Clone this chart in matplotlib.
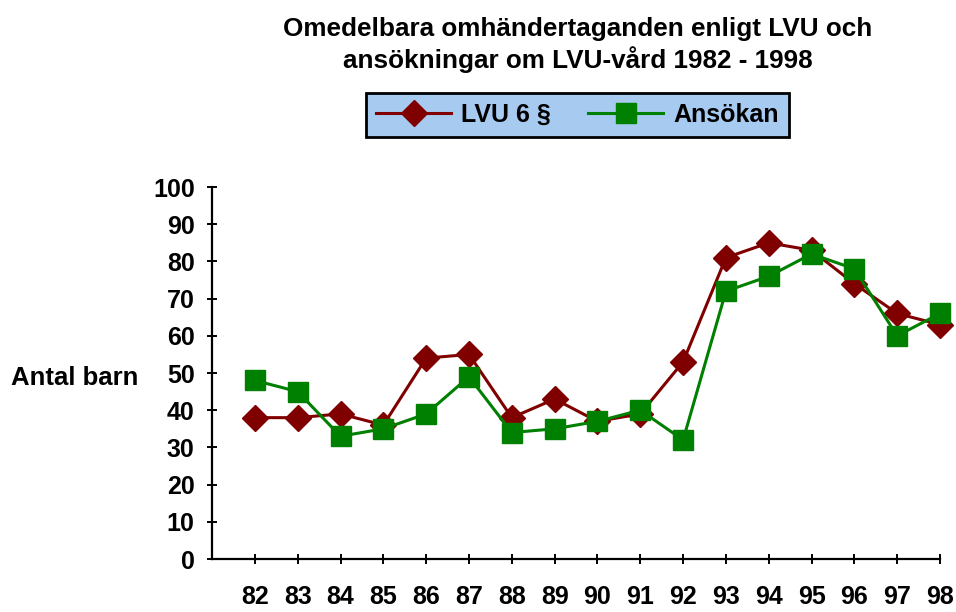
import matplotlib
matplotlib.use("Agg")
import matplotlib.pyplot as plt

# Data
years = ["82", "83", "84", "85", "86", "87", "88", "89", "90",
         "91", "92", "93", "94", "95", "96", "97", "98"]
lvu6 = [38, 38, 39, 36, 54, 55, 38, 43, 37, 39, 53, 81, 85, 83, 74, 66, 63]
ansokan = [48, 45, 33, 35, 39, 49, 34, 35, 37, 40, 32, 72, 76, 82, 78, 60, 66]
y_ticks = [0, 10, 20, 30, 40, 50, 60, 70, 80, 90, 100]

plt.rcParams['font.family'] = ['Liberation Sans', 'DejaVu Sans']
plt.rcParams['font.weight'] = 'bold'

fig = plt.figure(figsize=(9.56, 6.12), dpi=100)
ax = fig.add_axes([0.2218, 0.0866, 0.7615, 0.6078])

x = list(range(1, len(years) + 1))

# Plot both series
ax.plot(x, lvu6, color='#800000', linewidth=2.2, marker='D', markersize=13.5,
        label='LVU 6 §', clip_on=False, zorder=3)
ax.plot(x, ansokan, color='#008000', linewidth=2.2, marker='s', markersize=14.5,
        label='Ansökan', clip_on=False, zorder=4)

# Axes limits and ticks
ax.set_xlim(0, len(years))
ax.set_ylim(0, 100)
ax.set_xticks(x)
ax.set_xticklabels(years)
ax.set_yticks(y_ticks)

ax.spines['top'].set_visible(False)
ax.spines['right'].set_visible(False)
ax.spines['left'].set_linewidth(1.6)
ax.spines['bottom'].set_linewidth(1.6)

ax.tick_params(axis='both', direction='inout', length=7, width=1.4, labelsize=18)
ax.tick_params(axis='x', pad=15.5)
ax.tick_params(axis='y', pad=9)
for lbl in ax.get_xticklabels() + ax.get_yticklabels():
    lbl.set_fontweight('bold')

# Title and y label
fig.text(0.604, 0.926, 'Omedelbara omhändertaganden enligt LVU och\nansökningar om LVU-vård 1982 - 1998',
         ha='center', va='center', fontsize=18.8, fontweight='bold', linespacing=1.25)
fig.text(0.012, 0.382, 'Antal barn', ha='left', va='center', fontsize=18.5, fontweight='bold')

# Legend box
leg = fig.legend(loc='center', bbox_to_anchor=(0.604, 0.812), ncol=2, fontsize=18,
                 frameon=True, fancybox=False, handlelength=3, columnspacing=1.5,
                 handletextpad=0.4, borderpad=0.4)
leg.get_frame().set_facecolor('#a6caf0')
leg.get_frame().set_edgecolor('black')
leg.get_frame().set_linewidth(2)
leg.get_frame().set_alpha(1)

fig.savefig('out.png', dpi=100)
